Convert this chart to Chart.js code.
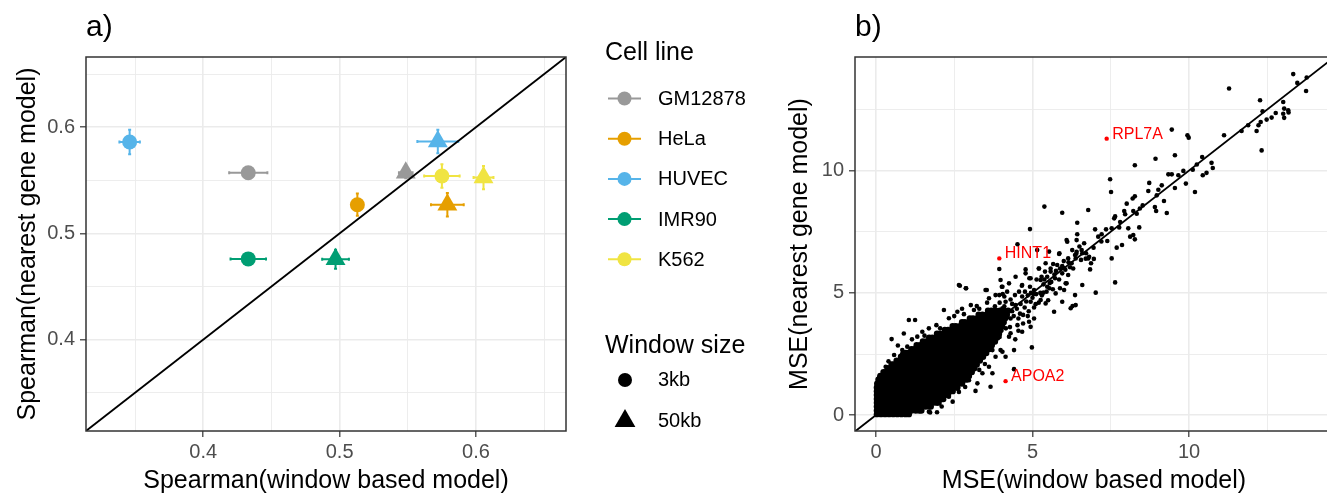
<!DOCTYPE html>
<html>
<head>
<meta charset="utf-8">
<script src="https://cdn.jsdelivr.net/npm/chart.js@4.4.1/dist/chart.umd.min.js"></script>
<style>
  html, body { margin: 0; padding: 0; background: #fff; overflow: hidden; width: 1327px; height: 496px; }
  #panelA { position: absolute; left: 0; top: 0; }
  #panelB { position: absolute; left: 780px; top: 0; }
</style>
</head>
<body>
<canvas id="panelA" width="780" height="496"></canvas>
<canvas id="panelB" width="558" height="496"></canvas>
<script>
// ---- panel a: Spearman correlation per cell line ----
const cellLines = ['GM12878', 'HeLa', 'HUVEC', 'IMR90', 'K562'];
const cellColors = ['#999999', '#E69F00', '#56B4E9', '#009E73', '#F0E442'];
const windowSizes = ['3kb', '50kb'];

const window3kb = [0.433, 0.513, 0.346, 0.433, 0.575];
const nearest3kb = [0.557, 0.527, 0.586, 0.476, 0.554];
const window3kbErr = [0.014, 0.004, 0.0075, 0.013, 0.013];
const nearest3kbErr = [0.005, 0.0105, 0.0115, 0.005, 0.011];

const window50kb = [0.5485, 0.579, 0.572, 0.497, 0.6055];
const nearest50kb = [0.557, 0.527, 0.5865, 0.4757, 0.5525];
const window50kbErr = [0.005, 0.012, 0.015, 0.0098, 0.0073];
const nearest50kbErr = [0.005, 0.011, 0.011, 0.009, 0.011];

const aTicks = [0.35, 0.4, 0.45, 0.5, 0.55, 0.6, 0.65];
const aTickLabels = ['', '0.4', '', '0.5', '', '0.6', ''];

// ---- panel b: per-gene MSE ----
const bTicks = [0, 2.5, 5, 7.5, 10, 12.5];
const bTickLabels = ['0', '', '5', '', '10', ''];

const highlightGenes = ['RPL7A', 'HINT1', 'APOA2'];
const highlightWindow = [7.37, 3.94, 4.14];
const highlightNearest = [11.31, 6.41, 1.39];

// scattered genes, [window, nearest] pairs
const mseScatter = [
  13.33,13.95, 13.46,13.59, 13.76,13.81, 13.74,13.26, 11.28,13.36, 12.27,12.88, 12.35,12.43,
  13.01,12.81, 13.04,12.54, 13.17,12.47, 13.18,12.38, 13.01,12.33, 13.04,12.16, 12.77,12.36,
  12.64,12.17, 12.48,12.09, 12.29,11.99, 12.22,11.86, 12.16,11.62, 12.32,10.83, 11.89,11.86,
  11.68,11.62, 11.12,11.45, 9.45,11.68, 9.95,11.45, 9.99,11.35, 9.55,10.63, 8.93,10.49,
  8.27,10.22, 10.42,10.56, 10.25,10.25, 10.12,10.04, 9.82,9.99, 9.66,9.81, 9.45,9.85,
  9.34,9.85, 10.72,10.32, 10.76,10.11, 10.56,9.91, 10.44,9.81, 9.90,9.47, 10.19,9.13,
  7.48,9.65, 7.51,9.13, 8.73,9.50, 9.13,9.40, 9.02,9.22, 8.70,9.17, 9.55,9.29, 8.97,8.99,
  9.20,8.76, 8.91,8.51, 8.95,8.35, 9.29,8.27, 8.27,8.95, 8.20,8.86, 8.01,8.65, 8.52,8.58,
  8.43,8.45, 7.93,8.35, 7.96,8.22, 8.22,8.35, 7.64,8.13, 8.33,8.24,
  5.38,8.53, 5.95,8.28, 6.78,8.39, 4.92,7.61, 6.43,7.87, 7.61,8.05, 7.53,7.64, 7.00,7.60,
  7.21,7.40, 7.10,7.30, 7.39,7.12, 7.77,7.68, 8.06,7.64, 8.22,7.37, 8.12,7.30, 8.27,7.19,
  8.41,7.68, 7.86,6.96, 7.69,6.85, 7.53,6.41, 7.64,5.43, 6.09,7.16, 6.43,7.40, 6.41,7.16,
  6.65,7.03, 6.57,6.75, 6.71,6.62, 6.41,6.68, 6.36,6.55, 6.14,6.41, 6.25,6.21, 5.98,6.03,
  5.86,6.62, 5.66,6.18, 5.58,6.00, 5.40,5.87, 5.29,5.66, 5.13,5.55, 4.90,5.60, 4.78,5.96,
  4.66,5.29, 5.20,6.00, 5.47,5.66, 5.72,5.60, 5.88,6.00, 6.78,6.41, 6.96,6.39, 6.87,6.21,
  6.84,5.96, 6.36,4.91, 7.02,5.01, 6.14,5.73, 6.09,5.39, 5.88,5.19, 3.94,5.98, 4.02,5.25,
  4.05,4.95, 3.94,4.91, 3.54,5.12, 2.88,5.19, 2.68,5.29, 4.44,4.91, 4.76,5.05, 4.92,5.25,
  5.54,5.19, 5.35,5.01, 5.03,4.95, 4.52,6.99, 5.15,6.75, 6.28,4.46,
  1.05,3.89, 1.25,3.89, 0.50,3.11, 2.65,5.32, 2.87,5.19, 2.17,4.30, 2.60,4.23, 2.81,4.13,
  3.50,5.12, 3.22,4.46, 3.13,4.30, 4.14,4.64, 4.30,4.73, 4.46,4.50, 4.04,4.37, 4.94,4.64,
  5.10,4.54, 5.26,4.71, 5.42,4.57, 5.69,4.23, 5.95,4.64, 6.22,4.37, 6.38,4.50, 4.94,3.61,
  4.98,2.77, 4.89,3.82, 4.52,3.68, 4.67,3.41, 4.25,3.21, 4.41,2.66, 4.04,2.59, 4.14,2.39,
  4.41,1.88, 3.66,1.16, 3.18,0.99, 3.72,1.71, 3.48,2.09, 1.69,0.14,
  5.53,6.69, 5.85,6.59, 6.11,7.09, 6.27,6.75, 6.59,6.62, 6.81,6.48, 6.38,6.41, 5.21,6.00,
  5.42,6.21, 5.58,5.87, 5.79,6.14, 5.95,5.80, 6.06,5.39, 5.26,5.53, 4.94,5.60, 4.67,5.32,
  4.78,5.80, 4.46,5.66, 4.25,5.39, 4.04,5.25, 3.98,5.53, 4.19,5.05, 4.57,5.05, 5.05,5.12,
  5.47,5.25, 5.74,4.98, 3.82,4.91, 3.61,4.78, 4.67,4.85, 5.50,4.70, 6.01,5.12, 6.59,5.32,
  3.70,4.00, 3.85,4.25, 4.00,4.10, 4.10,4.45, 4.20,4.00, 4.35,4.25, 4.50,4.35, 4.60,4.15,
  4.75,4.40, 4.85,4.90, 5.00,4.80, 5.25,5.00, 5.35,5.35, 5.60,5.45, 5.70,5.75, 6.00,6.30,
  6.20,6.05, 6.50,6.90, 6.70,6.40, 6.95,6.85, 7.20,7.10, 7.35,7.60, 7.80,7.90,
  3.90,3.70, 4.05,3.85, 4.20,4.20, 4.28,3.60, 4.40,4.05, 4.55,3.95, 4.62,4.55, 4.70,4.10,
  4.80,4.65, 4.88,4.25, 4.95,5.00, 5.05,4.40, 5.12,4.95, 5.20,4.60, 5.30,4.90, 5.38,5.55,
  5.45,5.05, 5.55,5.40, 5.65,5.15, 5.75,5.90, 5.85,5.55, 5.95,6.10, 6.05,5.95, 6.15,6.25,
  6.30,6.00, 6.40,6.60, 6.55,6.35, 3.95,4.60, 4.10,4.85, 4.35,4.55, 3.80,4.45, 3.65,4.30,
  4.55,3.45, 4.70,3.75, 4.85,4.05, 5.05,3.95, 4.30,3.35, 4.45,3.10,
  0.58,2.46, 0.84,2.66, 0.31,1.98, 0.10,1.55, 0.89,3.34, 1.32,3.21, 1.48,3.41, 1.69,3.55,
  1.93,3.68, 2.33,3.96, 3.35,4.02, 3.03,4.50, 1.00,2.80, 0.84,2.52, 1.73,0.11, 2.33,0.75,
  2.65,0.95, 2.97,1.43, 3.24,1.30, 3.40,1.71, 3.61,1.98, 3.82,2.39, 3.98,2.66, 3.72,2.66,
  3.50,2.80, 2.10,0.35, 1.95,0.12, 2.45,0.55, 2.85,1.15, 3.30,1.85, 3.75,2.95, 3.95,3.20,
  4.15,3.55, 4.30,3.95, 0.40,2.20, 0.70,2.85, 1.15,3.10, 1.55,3.25, 2.05,3.55, 2.50,4.05,
  2.75,4.35, 3.30,4.35, 3.55,4.60
];

// the dense bulk of genes near the origin, one row per nearest-model MSE level
const mseCoreRows = [
  [0.04, [0.03,0.16,0.29,0.42,0.55,0.68,0.81,0.94,1.05]],
  [0.19, [0.03,0.10,0.23,0.36,0.49,0.62,0.75,0.88,1.01,1.14,1.27,1.38,1.45]],
  [0.35, [0.03,0.16,0.29,0.42,0.55,0.68,0.81,0.94,1.07,1.20,1.33,1.46,1.59,1.70,1.75]],
  [0.51, [0.03,0.10,0.23,0.36,0.49,0.62,0.75,0.88,1.01,1.14,1.27,1.40,1.53,1.66,1.79,1.92,2.00]],
  [0.66, [0.03,0.16,0.29,0.42,0.55,0.68,0.81,0.94,1.07,1.20,1.33,1.46,1.59,1.72,1.85,1.98,2.10,2.15]],
  [0.82, [0.03,0.10,0.23,0.36,0.49,0.62,0.75,0.88,1.01,1.14,1.27,1.40,1.53,1.66,1.79,1.92,2.05,2.18,2.30]],
  [0.98, [0.03,0.16,0.29,0.42,0.55,0.68,0.81,0.94,1.07,1.20,1.33,1.46,1.59,1.72,1.85,1.98,2.11,2.24,2.37,2.45]],
  [1.13, [0.03,0.10,0.23,0.36,0.49,0.62,0.75,0.88,1.01,1.14,1.27,1.40,1.53,1.66,1.79,1.92,2.05,2.18,2.31,2.44,2.57,2.60]],
  [1.29, [0.04,0.16,0.29,0.42,0.55,0.68,0.81,0.94,1.07,1.20,1.33,1.46,1.59,1.72,1.85,1.98,2.11,2.24,2.37,2.50,2.63,2.75]],
  [1.45, [0.08,0.17,0.30,0.43,0.56,0.69,0.82,0.95,1.08,1.21,1.34,1.47,1.60,1.73,1.86,1.99,2.12,2.25,2.38,2.51,2.64,2.77,2.88]],
  [1.60, [0.14,0.24,0.37,0.50,0.63,0.76,0.89,1.02,1.15,1.28,1.41,1.54,1.67,1.80,1.93,2.06,2.19,2.32,2.45,2.58,2.71,2.84,2.97]],
  [1.76, [0.24,0.31,0.44,0.57,0.70,0.83,0.96,1.09,1.22,1.35,1.48,1.61,1.74,1.87,2.00,2.13,2.26,2.39,2.52,2.65,2.78,2.91,3.04,3.06]],
  [1.92, [0.38,0.50,0.63,0.76,0.89,1.02,1.15,1.28,1.41,1.54,1.67,1.80,1.93,2.06,2.19,2.32,2.45,2.58,2.71,2.84,2.97,3.10,3.14]],
  [2.07, [0.50,0.57,0.70,0.83,0.96,1.09,1.22,1.35,1.48,1.61,1.74,1.87,2.00,2.13,2.26,2.39,2.52,2.65,2.78,2.91,3.04,3.17,3.22]],
  [2.23, [0.66,0.76,0.89,1.02,1.15,1.28,1.41,1.54,1.67,1.80,1.93,2.06,2.19,2.32,2.45,2.58,2.71,2.84,2.97,3.10,3.23,3.32]],
  [2.39, [0.80,0.83,0.96,1.09,1.22,1.35,1.48,1.61,1.74,1.87,2.00,2.13,2.26,2.39,2.52,2.65,2.78,2.91,3.04,3.17,3.30,3.42]],
  [2.54, [0.95,1.02,1.15,1.28,1.41,1.54,1.67,1.80,1.93,2.06,2.19,2.32,2.45,2.58,2.71,2.84,2.97,3.10,3.23,3.36,3.49,3.52]],
  [2.70, [1.13,1.22,1.35,1.48,1.61,1.74,1.87,2.00,2.13,2.26,2.39,2.52,2.65,2.78,2.91,3.04,3.17,3.30,3.43,3.56,3.62]],
  [2.86, [1.30,1.41,1.54,1.67,1.80,1.93,2.06,2.19,2.32,2.45,2.58,2.71,2.84,2.97,3.10,3.23,3.36,3.49,3.62,3.70]],
  [3.01, [1.50,1.61,1.74,1.87,2.00,2.13,2.26,2.39,2.52,2.65,2.78,2.91,3.04,3.17,3.30,3.43,3.56,3.69,3.80]],
  [3.17, [1.70,1.80,1.93,2.06,2.19,2.32,2.45,2.58,2.71,2.84,2.97,3.10,3.23,3.36,3.49,3.62,3.75,3.87]],
  [3.33, [1.95,2.04,2.17,2.30,2.43,2.56,2.69,2.82,2.95,3.08,3.21,3.34,3.47,3.60,3.73,3.86,3.93]],
  [3.48, [2.20,2.30,2.43,2.56,2.69,2.82,2.95,3.08,3.21,3.34,3.47,3.60,3.73,3.86,3.98]],
  [3.64, [2.45,2.55,2.68,2.81,2.94,3.07,3.20,3.33,3.46,3.59,3.72,3.85,3.98,4.03]],
  [3.80, [2.75,2.84,2.97,3.10,3.23,3.36,3.49,3.62,3.75,3.88,4.01,4.08]],
  [3.95, [3.00,3.10,3.23,3.36,3.49,3.62,3.75,3.88,4.01,4.12]],
  [4.11, [3.28,3.40,3.53,3.66,3.79,3.92,4.05,4.18]],
  [4.27, [3.58,3.70,3.83,3.96,4.09,4.22]]
];

Chart.defaults.font.family = '"Liberation Sans", Arial, Helvetica, sans-serif';
Chart.defaults.color = '#000';

const FONT = '"Liberation Sans", Arial, Helvetica, sans-serif';

function makeAxis(ticks, labels, range, size, title, titlePad, vertical) {
  return {
    type: 'linear',
    min: range[0],
    max: range[1],
    afterBuildTicks: s => { s.ticks = ticks.map(v => ({ value: v })); },
    afterFit: s => { if (vertical) s.width = size; else s.height = size; },
    ticks: {
      autoSkip: false,
      maxRotation: 0,
      padding: vertical ? 5 : 3,
      color: '#4d4d4d',
      font: { size: 20, lineHeight: 1.2 },
      callback: (v, i) => labels[i]
    },
    grid: {
      color: '#ebebeb',
      lineWidth: c => labels[c.index] ? 1.6 : 0.9,
      tickLength: 6,
      tickWidth: 1.2,
      tickColor: c => labels[c.index] ? '#333333' : 'rgba(0,0,0,0)'
    },
    border: { display: false },
    title: {
      display: true,
      text: title,
      color: '#000',
      font: { size: 25, lineHeight: 1.2 },
      padding: titlePad
    }
  };
}

const panelFrame = {
  id: 'panelFrame',
  afterDraw(chart, args, opts) {
    const { ctx, chartArea: a } = chart;
    ctx.save();
    ctx.strokeStyle = '#333333';
    ctx.lineWidth = 1.5;
    ctx.strokeRect(a.left, a.top, a.right - a.left, a.bottom - a.top);
    ctx.fillStyle = '#000';
    ctx.font = '30px ' + FONT;
    ctx.textBaseline = 'alphabetic';
    ctx.textAlign = 'left';
    ctx.fillText(opts.tag, a.left, 36);
    ctx.restore();
  }
};

const errorBars = {
  id: 'errorBars',
  beforeDatasetsDraw(chart) {
    const { ctx, chartArea: a, scales: { x, y } } = chart;
    const groups = [
      [window3kb, nearest3kb, window3kbErr, nearest3kbErr],
      [window50kb, nearest50kb, window50kbErr, nearest50kbErr]
    ];
    const cap = 1.5;
    ctx.save();
    ctx.beginPath();
    ctx.rect(a.left, a.top, a.right - a.left, a.bottom - a.top);
    ctx.clip();
    ctx.lineWidth = 2;
    groups.forEach(([xs, ys, xe, ye]) => {
      xs.forEach((xv, i) => {
        const px = x.getPixelForValue(xv), py = y.getPixelForValue(ys[i]);
        const x0 = x.getPixelForValue(xv - xe[i]), x1 = x.getPixelForValue(xv + xe[i]);
        const y0 = y.getPixelForValue(ys[i] - ye[i]), y1 = y.getPixelForValue(ys[i] + ye[i]);
        ctx.strokeStyle = cellColors[i];
        ctx.beginPath();
        ctx.moveTo(x0, py); ctx.lineTo(x1, py);
        ctx.moveTo(x0, py - cap); ctx.lineTo(x0, py + cap);
        ctx.moveTo(x1, py - cap); ctx.lineTo(x1, py + cap);
        ctx.moveTo(px, y0); ctx.lineTo(px, y1);
        ctx.moveTo(px - cap, y0); ctx.lineTo(px + cap, y0);
        ctx.moveTo(px - cap, y1); ctx.lineTo(px + cap, y1);
        ctx.stroke();
      });
    });
    ctx.restore();
  }
};

// legend to the right of panel a: colour key and shape key
const sideLegend = {
  id: 'sideLegend',
  afterDraw(chart) {
    const ctx = chart.ctx;
    const left = 605;
    ctx.save();
    ctx.fillStyle = '#000';
    ctx.textAlign = 'left';
    ctx.textBaseline = 'alphabetic';
    ctx.font = '25px ' + FONT;
    ctx.fillText('Cell line', left, 60);
    ctx.fillText('Window size', left, 353);

    ctx.font = '20px ' + FONT;
    ctx.textBaseline = 'middle';
    cellLines.forEach((name, i) => {
      const cy = 98.5 + i * 40.2;
      ctx.strokeStyle = cellColors[i];
      ctx.lineWidth = 2;
      ctx.beginPath();
      ctx.moveTo(608, cy); ctx.lineTo(641, cy);
      ctx.stroke();
      ctx.fillStyle = cellColors[i];
      Chart.helpers.drawPoint(ctx, { pointStyle: 'circle', radius: 7, rotation: 0, borderWidth: 0 }, 624.5, cy);
      ctx.fillStyle = '#000';
      ctx.fillText(name, 658, cy + 1);
    });

    const shapes = [['circle', 7, 380], ['triangle', 12, 421]];
    windowSizes.forEach((w, i) => {
      const [style, r, cy] = shapes[i];
      ctx.fillStyle = '#000';
      Chart.helpers.drawPoint(ctx, { pointStyle: style, radius: r, rotation: 0, borderWidth: 0 }, 625, cy);
      ctx.fillText(w, 658, cy);
    });
    ctx.restore();
  }
};

const geneLabels = {
  id: 'geneLabels',
  afterDatasetsDraw(chart) {
    const { ctx, scales: { x, y } } = chart;
    ctx.save();
    ctx.fillStyle = '#ff0000';
    ctx.font = '16px ' + FONT;
    ctx.textAlign = 'left';
    ctx.textBaseline = 'alphabetic';
    highlightGenes.forEach((g, i) => {
      ctx.fillText(g, x.getPixelForValue(highlightWindow[i]) + 5.5, y.getPixelForValue(highlightNearest[i]));
    });
    ctx.restore();
  }
};

const aRange = [0.314, 0.666];

new Chart(document.getElementById('panelA'), {
  type: 'scatter',
  data: {
    datasets: [
      {
        data: [{ x: 0.3, y: 0.3 }, { x: 0.7, y: 0.7 }],
        showLine: true,
        borderColor: '#000',
        borderWidth: 1.8,
        pointRadius: 0,
        clip: 0
      },
      {
        label: windowSizes[0],
        data: window3kb.map((v, i) => ({ x: v, y: nearest3kb[i] })),
        pointStyle: 'circle',
        pointRadius: 7.5,
        borderWidth: 0,
        backgroundColor: cellColors
      },
      {
        label: windowSizes[1],
        data: window50kb.map((v, i) => ({ x: v, y: nearest50kb[i] })),
        pointStyle: 'triangle',
        pointRadius: 11.5,
        borderWidth: 0,
        backgroundColor: cellColors
      }
    ]
  },
  options: {
    responsive: false,
    animation: false,
    events: [],
    layout: { padding: { left: 0, top: 57, right: 214, bottom: 0 } },
    scales: {
      x: makeAxis(aTicks, aTickLabels, aRange, 65, 'Spearman(window based model)', { bottom: 0 }, false),
      y: makeAxis(aTicks, aTickLabels, aRange, 86, 'Spearman(nearest gene model)', { top: 13 }, true)
    },
    plugins: {
      legend: { display: false },
      tooltip: { enabled: false },
      panelFrame: { tag: 'a)' }
    }
  },
  plugins: [errorBars, panelFrame, sideLegend]
});

const mseSparse = [];
for (let i = 0; i < mseScatter.length; i += 2) {
  mseSparse.push({ x: mseScatter[i], y: mseScatter[i + 1] });
}
const mseCore = [];
mseCoreRows.forEach(([yv, xs]) => xs.forEach(xv => mseCore.push({ x: xv, y: yv })));

new Chart(document.getElementById('panelB'), {
  type: 'scatter',
  data: {
    datasets: [
      {
        data: [{ x: -1, y: -1 }, { x: 16, y: 16 }],
        showLine: true,
        borderColor: '#000',
        borderWidth: 1.8,
        pointRadius: 0,
        clip: 0
      },
      {
        data: highlightWindow.map((v, i) => ({ x: v, y: highlightNearest[i] })),
        pointRadius: 2.2,
        borderWidth: 0,
        backgroundColor: '#ff0000'
      },
      {
        data: mseSparse,
        pointRadius: 2.3,
        borderWidth: 0,
        backgroundColor: '#000'
      },
      {
        // overlapping genes in the bulk merge into one solid mass
        data: mseCore,
        pointRadius: 3.2,
        borderWidth: 0,
        backgroundColor: '#000'
      }
    ]
  },
  options: {
    responsive: false,
    animation: false,
    events: [],
    layout: { padding: { left: 0, top: 57, right: 5, bottom: 0 } },
    scales: {
      x: makeAxis(bTicks, bTickLabels, [-0.67, 14.6], 65, 'MSE(window based model)', { bottom: 0 }, false),
      y: makeAxis(bTicks, bTickLabels, [-0.65, 14.65], 75, 'MSE(nearest gene model)', { top: 5 }, true)
    },
    plugins: {
      legend: { display: false },
      tooltip: { enabled: false },
      panelFrame: { tag: 'b)' }
    }
  },
  plugins: [panelFrame, geneLabels]
});
</script>
</body>
</html>
